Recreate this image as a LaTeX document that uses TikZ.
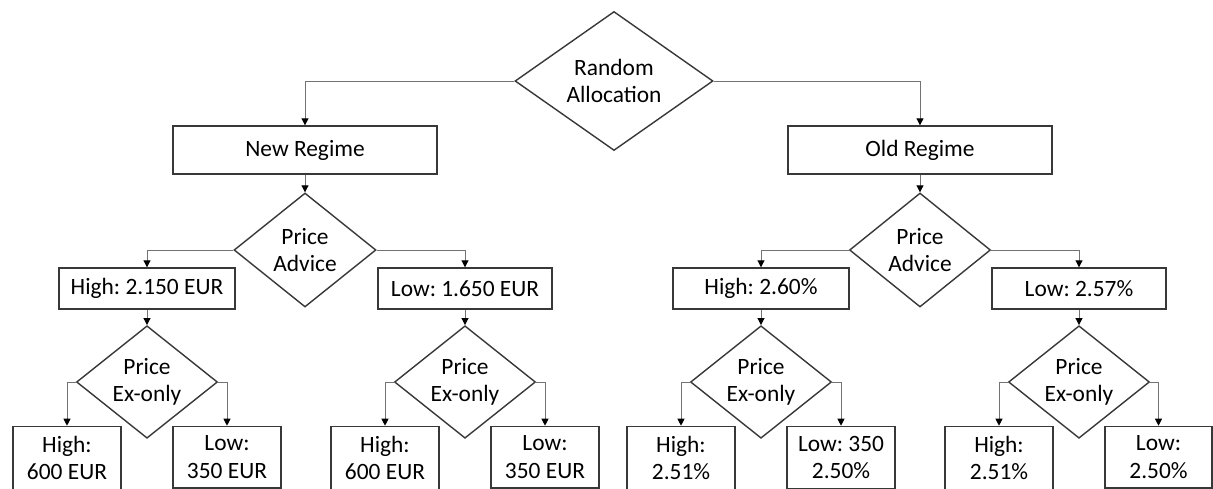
\documentclass[tikz,border=0pt]{standalone}
\usepackage{fontspec}
\setmainfont{Carlito}
\usetikzlibrary{shapes.geometric,arrows.meta}
\frenchspacing
\tikzset{
  base/.style={draw=black!78, line width=1.4pt, text=black, font=\fontsize{23.4}{27.5}\selectfont\frenchspacing, align=center},
  dia/.style={base, shape=diamond, inner sep=0pt, aspect=1.25},
  boxnode/.style={base, rectangle, inner sep=0pt},
  leaf/.style={base, rectangle, anchor=north, inner xsep=0pt, inner ysep=9.5pt, minimum width=108pt},
  conn/.style={draw=black!55, line width=1pt, -{Triangle[length=7pt,width=7pt,color=black]}},
}
\begin{document}
\begin{tikzpicture}[x=1pt,y=-1pt]
\useasboundingbox (0,0) rectangle (1213,488);
\fill[white] (0,0) rectangle (1213,488);
\clip (0,0) rectangle (1213,488);

% top
\node[dia, minimum width=198pt, minimum height=139pt] (ra) at (614,81) {Random\\Allocation};
\node[boxnode, minimum width=264pt, minimum height=48pt] (new) at (305,150) {New Regime};
\node[boxnode, minimum width=264pt, minimum height=48pt] (old) at (920,150) {Old Regime};

% price advice
\node[dia, minimum width=142pt, minimum height=114pt] (pa1) at (305,250) {Price\\Advice};
\node[dia, minimum width=141pt, minimum height=114pt] (pa2) at (920,250) {Price\\Advice};

\node[boxnode, minimum width=176pt, minimum height=41pt] (h1) at (147,288.5) {High: 2.150 EUR};
\node[boxnode, minimum width=174pt, minimum height=41pt] (l1) at (465,288.5) {Low: 1.650 EUR};
\node[boxnode, minimum width=176pt, minimum height=41pt] (h2) at (761,288.5) {High: 2.60\%};
\node[boxnode, minimum width=174pt, minimum height=41pt] (l2) at (1079,288.5) {Low: 2.57\%};

% ex-only
\node[dia, minimum width=141pt, minimum height=112.5pt] (e1) at (147,382) {Price\\Ex-only};
\node[dia, minimum width=141pt, minimum height=112.5pt] (e2) at (465,382) {Price\\Ex-only};
\node[dia, minimum width=141pt, minimum height=112.5pt] (e3) at (761,382) {Price\\Ex-only};
\node[dia, minimum width=141pt, minimum height=112.5pt] (e4) at (1079,382) {Price\\Ex-only};

% leaves
\node[leaf] (a1) at (67,425.7) {High:\\600 EUR};
\node[leaf] (a2) at (227,425.7) {Low:\\350 EUR};
\node[leaf] (b1) at (385,425.7) {High:\\600 EUR};
\node[leaf] (b2) at (545,425.7) {Low:\\350 EUR};
\node[leaf] (c1) at (681,425.7) {High:\\2.51\%};
\node[leaf] (c2) at (841,425.7) {Low: 350\\2.50\%};
\node[leaf] (d1) at (999,425.7) {High:\\2.51\%};
\node[leaf, minimum width=107pt] (d2) at (1158.5,425.7) {Low:\\2.50\%};

% connectors
\draw[conn] (ra.west) -| (new.north);
\draw[conn] (ra.east) -| (old.north);
\draw[conn] (new.south) -- (pa1.north);
\draw[conn] (old.south) -- (pa2.north);
\draw[conn] (pa1.west) -| (h1.north);
\draw[conn] (pa1.east) -| (l1.north);
\draw[conn] (pa2.west) -| (h2.north);
\draw[conn] (pa2.east) -| (l2.north);
\draw[conn] (h1.south) -- (e1.north);
\draw[conn] (l1.south) -- (e2.north);
\draw[conn] (h2.south) -- (e3.north);
\draw[conn] (l2.south) -- (e4.north);
\draw[conn] (e1.west) -| (a1.north);
\draw[conn] (e1.east) -| (a2.north);
\draw[conn] (e2.west) -| (b1.north);
\draw[conn] (e2.east) -| (b2.north);
\draw[conn] (e3.west) -| (c1.north);
\draw[conn] (e3.east) -| (c2.north);
\draw[conn] (e4.west) -| (d1.north);
\draw[conn] (e4.east) -| (d2.north);
\end{tikzpicture}
\end{document}
